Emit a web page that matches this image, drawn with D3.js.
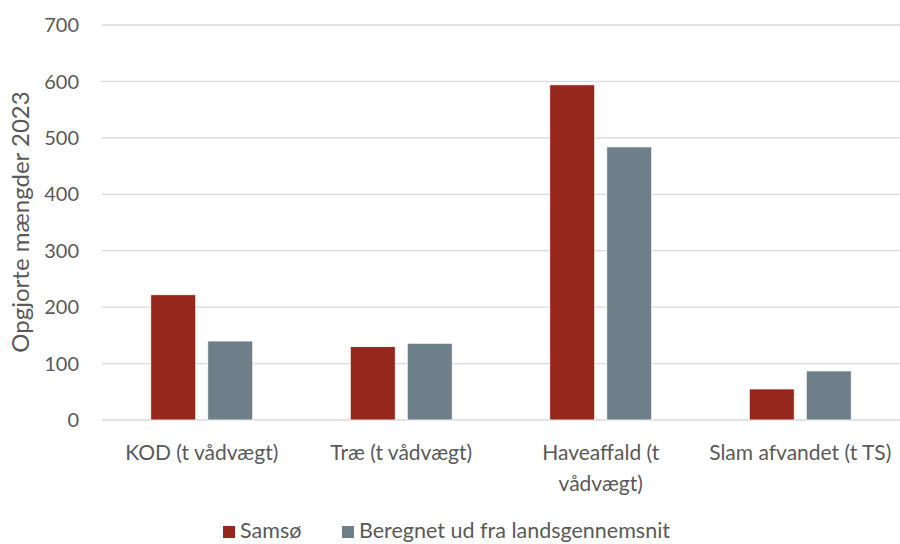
<!DOCTYPE html>
<html><head><meta charset="utf-8">
<script src="https://cdn.jsdelivr.net/npm/d3@7"></script>
<style>body{margin:0;background:#fff;}svg{display:block;font-family:Lato,"Open Sans",sans-serif;}</style>
</head><body>
<svg id="chart" width="900" height="544"></svg>
<script>
const categories = [["KOD (t vådvægt)"], ["Træ (t vådvægt)"], ["Haveaffald (t", "vådvægt)"], ["Slam afvandet (t TS)"]];
const seriesNames = ["Samsø", "Beregnet ud fra landsgennemsnit"];
const samso = [222, 130, 594, 55];
const landsgennemsnit = [140, 136, 484, 87];
const yTicks = [0, 100, 200, 300, 400, 500, 600, 700];
const colors = ["#96271d", "#6f7f89"];

const svg = d3.select("#chart");
const m = {l: 102, r: 0, t: 25, b: 124};
const W = 900, H = 544;
const x = d3.scaleBand().domain(d3.range(categories.length)).range([m.l, W - m.r]);
const y = d3.scaleLinear().domain([0, 700]).range([H - m.b, m.t]);
const groupW = 102;
const x1 = d3.scaleBand().domain([0, 1]).range([0, groupW]).paddingInner(12 / 57);

const textColor = "#595959";
// gridlines
svg.append("g").selectAll("line").data(yTicks).join("line")
  .attr("x1", m.l).attr("x2", W - m.r)
  .attr("y1", d => y(d)).attr("y2", d => y(d))
  .attr("stroke", "#d9d9d9").attr("stroke-width", 1.3);
// y labels
svg.append("g").selectAll("text").data(yTicks).join("text")
  .attr("x", 79).attr("y", d => y(d)).attr("dy", "0.36em")
  .attr("text-anchor", "end").attr("fill", textColor).attr("font-size", 20)
  .text(d => d);
// bars
const series = [samso, landsgennemsnit];
series.forEach((vals, si) => {
  svg.append("g").selectAll("rect").data(vals).join("rect")
    .attr("x", (d, i) => x(i) + (x.bandwidth() - groupW) / 2 + x1(si))
    .attr("width", x1.bandwidth())
    .attr("y", d => y(d)).attr("height", d => y(0) - y(d))
    .attr("fill", colors[si]).attr("stroke", "#fff").attr("stroke-width", 0.8);
});
// category labels
const cat = svg.append("g");
categories.forEach((lines, i) => {
  const cx = x(i) + x.bandwidth() / 2;
  const t = cat.append("text").attr("text-anchor", "middle").attr("fill", textColor).attr("font-size", 21)
    .attr("x", cx).attr("y", 460);
  lines.forEach((l, j) => t.append("tspan").attr("x", cx).attr("dy", j ? 31 : 0).text(l));
});
// y title
svg.append("text").attr("transform", "translate(29,222) rotate(-90)")
  .attr("text-anchor", "middle").attr("fill", textColor).attr("font-size", 24)
  .text("Opgjorte mængder 2023");
// legend
const lg = svg.append("g");
const legX = [223, 342];
seriesNames.forEach((n, i) => {
  lg.append("rect").attr("x", legX[i]).attr("y", 526).attr("width", 12).attr("height", 12).attr("fill", colors[i]);
  lg.append("text").attr("x", legX[i] + 17).attr("y", 538).attr("fill", textColor).attr("font-size", 21.5).text(n);
});
</script>
</body></html>
